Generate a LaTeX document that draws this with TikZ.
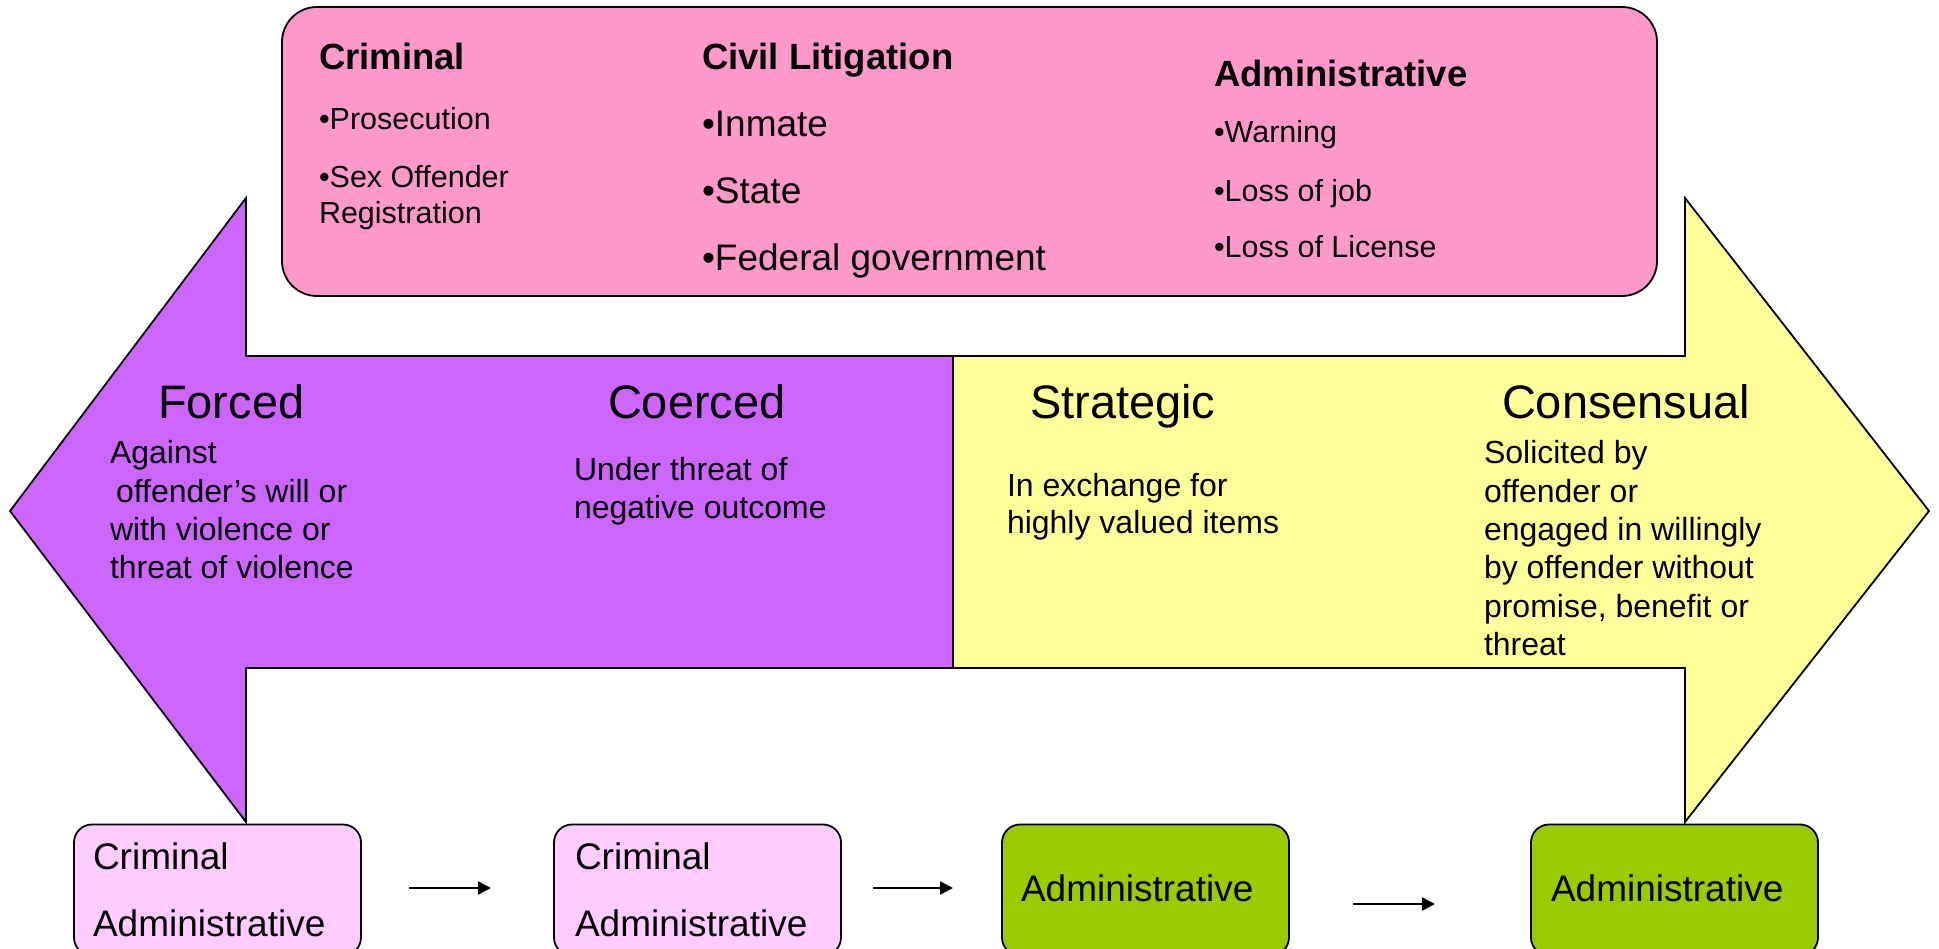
\documentclass[tikz,border=0pt]{standalone}
\usepackage{fontspec}
\setmainfont{Liberation Sans}
\usetikzlibrary{arrows.meta}
\definecolor{purp}{HTML}{CC66FF}
\definecolor{yel}{HTML}{FFFF99}
\definecolor{pinkbox}{HTML}{FF99CC}
\definecolor{lpink}{HTML}{FFCCFF}
\definecolor{grn}{HTML}{99CC00}
\begin{document}
\begin{tikzpicture}[x=1pt,y=-1pt,
  outline/.style={draw=black,line width=1.8pt,line join=miter},
  txt/.style={anchor=base west,inner sep=0pt,outer sep=0pt},
  hbold/.style={txt,font=\bfseries\fontsize{36.5}{44}\selectfont},
  item/.style={txt,font=\fontsize{30.5}{37}\selectfont},
  bigitem/.style={txt,font=\fontsize{37}{44}\selectfont},
  head/.style={txt,font=\fontsize{47}{56}\selectfont},
  desc/.style={txt,font=\fontsize{32}{38}\selectfont},
  boxtxt/.style={txt,font=\fontsize{37}{44}\selectfont},
  smallbox/.style={draw=black,line width=1.8pt,rounded corners=18pt,minimum width=287pt,minimum height=131pt,inner sep=0pt},
  conn/.style={line width=2.6pt,-{Triangle[length=13pt,width=13pt]}}
]
\useasboundingbox (0,0) rectangle (1939,949);
\clip (0,0) rectangle (1939,949);
\fill[white] (0,0) rectangle (1939,949);

% top box
\node[draw=black,fill=pinkbox,line width=1.8pt,rounded corners=35pt,minimum width=1375pt,minimum height=289pt,inner sep=0pt] (top) at (969.5,151.5) {};

\node[hbold] (crimH) at (319,70) {Criminal};
\node[item] (crim1) at (319,130) {•Prosecution};
\node[item] (crim2) at (319,188) {•Sex Offender};
\node[item] (crim3) at (319,224) {Registration};

\node[hbold] (civH) at (702,70) {Civil Litigation};
\node[bigitem] (civ1) at (702,137) {•Inmate};
\node[bigitem] (civ2) at (702,204) {•State};
\node[bigitem] (civ3) at (702,271) {•Federal government};

\node[hbold] (admH) at (1214,87) {Administrative};
\node[item] (adm1) at (1214,143) {•Warning};
\node[item] (adm2) at (1214,202) {•Loss of job};
\node[item] (adm3) at (1214,258) {•Loss of License};

% big arrows
\path[outline,fill=purp] (246,198) -- (10,511) -- (246,822) -- (246,668) -- (953,668) -- (953,356) -- (246,356) -- cycle;
\path[outline,fill=yel] (953,356) -- (1685,356) -- (1685,198) -- (1929,511) -- (1685,822) -- (1685,668) -- (953,668) -- cycle;

\node[head] (forced) at (158,419) {Forced};
\node[desc] (f1) at (110,464) {Against};
\node[desc] (f2) at (116,502) {offender’s will or};
\node[desc] (f3) at (110,540) {with violence or};
\node[desc] (f4) at (110,578) {threat of violence};

\node[head] (coerced) at (608,419) {Coerced};
\node[desc] (c1) at (574,481) {Under threat of};
\node[desc] (c2) at (574,518) {negative outcome};

\node[head] (strat) at (1030,419) {Strategic};
\node[desc] (s1) at (1007,496) {In exchange for};
\node[desc] (s2) at (1007,533) {highly valued items};

\node[head] (cons) at (1502,419) {Consensual};
\node[desc] (k1) at (1484,464) {Solicited by};
\node[desc] (k2) at (1484,502) {offender or};
\node[desc] (k3) at (1484,540) {engaged in willingly};
\node[desc] (k4) at (1484,578) {by offender without};
\node[desc] (k5) at (1484,617) {promise, benefit or};
\node[desc] (k6) at (1484,655) {threat};

% bottom boxes
\node[smallbox,fill=lpink] (b1) at (217.5,890) {};
\node[smallbox,fill=lpink] (b2) at (697.5,890) {};
\node[smallbox,fill=grn] (b3) at (1145.5,890) {};
\node[smallbox,fill=grn] (b4) at (1674.5,890) {};

\node[boxtxt] (b1a) at (93,869) {Criminal};
\node[boxtxt] (b1b) at (93,936) {Administrative};
\node[boxtxt] (b2a) at (575,869) {Criminal};
\node[boxtxt] (b2b) at (575,936) {Administrative};
\node[boxtxt] (b3a) at (1021,901) {Administrative};
\node[boxtxt] (b4a) at (1551,901) {Administrative};

% connectors
\coordinate (a1s) at (409,888);
\coordinate (a1e) at (491,888);
\coordinate (a2s) at (873,888);
\coordinate (a2e) at (953,888);
\coordinate (a3s) at (1353,904);
\coordinate (a3e) at (1435,904);
\draw[conn] (a1s) -- (a1e);
\draw[conn] (a2s) -- (a2e);
\draw[conn] (a3s) -- (a3e);
\end{tikzpicture}
\end{document}
